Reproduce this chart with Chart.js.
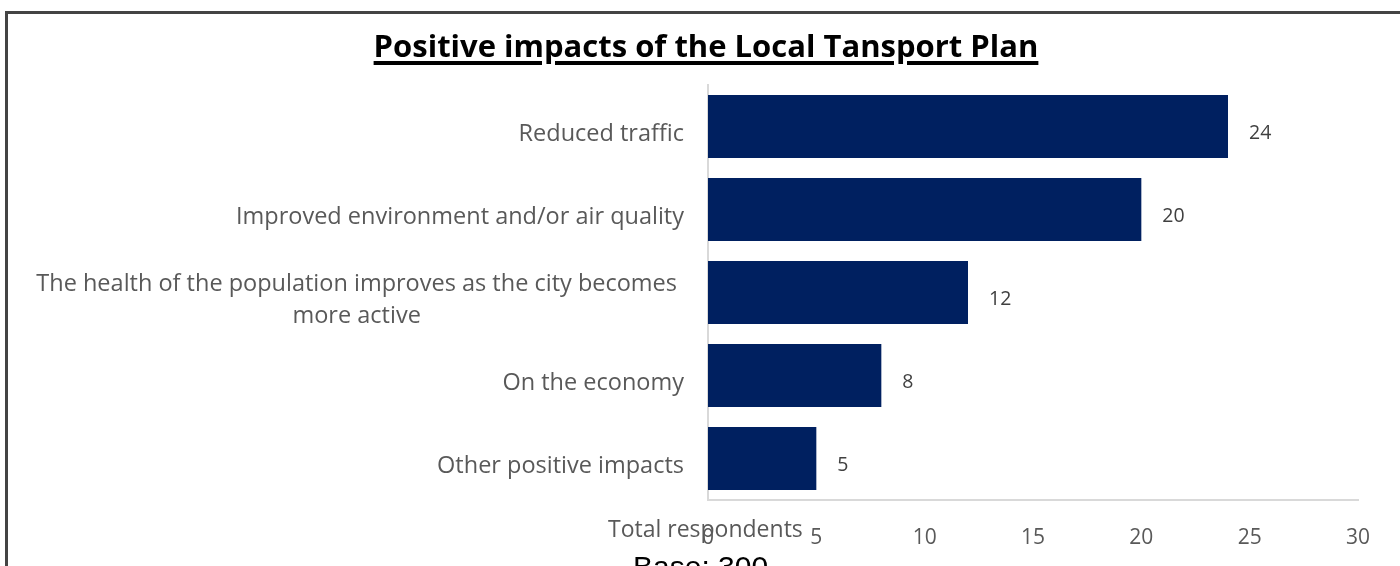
<!DOCTYPE html>
<html>
<head>
<meta charset="utf-8">
<script src="https://cdn.jsdelivr.net/npm/chart.js@4/dist/chart.umd.min.js"></script>
<style>
  html, body { margin: 0; padding: 0; background: #fff; overflow: hidden; }
  #wrap { position: relative; width: 1400px; height: 566px; }
  #frame {
    position: absolute; left: 5px; top: 11px; right: -10px; bottom: -10px;
    border-top: 3px solid #444; border-left: 3px solid #444;
  }
  #title {
    position: absolute; left: 0; width: 1412px; top: 30px; text-align: center;
    font: bold 31px "Open Sans", sans-serif; line-height: 1; color: #000;
    text-decoration: underline; text-decoration-thickness: 4px; text-underline-offset: 4px;
  }
  #base {
    position: absolute; left: 633px; top: 550px; line-height: 1;
    font: 30px "Liberation Sans", Arial, sans-serif; color: #000;
  }
  canvas { position: absolute; left: 0; top: 0; }
</style>
</head>
<body>
<div id="wrap">
  <div id="frame"></div>
  <canvas id="graph" width="1400" height="566"></canvas>
  <div id="title">Positive impacts of the Local Tansport Plan</div>
  <div id="base">Base: 300</div>
</div>
<script>
const categories = [
  ['Reduced traffic'],
  ['Improved environment and/or air quality'],
  ['The health of the population improves as the city becomes', 'more active'],
  ['On the economy'],
  ['Other positive impacts'],
];
const respondents = [24, 20, 12, 8, 5];
const xTicks = [0, 5, 10, 15, 20, 25, 30];
const axisTitle = 'Total respondents';

const graphRef = document.getElementById('graph');

// Category labels: each line centred in its block, block right edge near the axis
const categoryLabels = {
  id: 'categoryLabels',
  afterDraw(chart) {
    const { ctx, scales: { y } } = chart;
    ctx.save();
    ctx.font = '23.5px "Open Sans", sans-serif';
    ctx.fillStyle = '#595959';
    ctx.textBaseline = 'alphabetic';
    ctx.textAlign = 'center';
    const right = y.right - 24;
    const lh = 32;
    categories.forEach((lines, i) => {
      const cy = y.getPixelForValue(i);
      const w = Math.max(...lines.map((l) => ctx.measureText(l).width));
      const cx = right - w / 2 - (lines.length > 1 ? 7 : 0);
      lines.forEach((line, j) => {
        ctx.fillText(line, cx, cy + 14 + (j - (lines.length - 1) / 2) * lh);
      });
    });
    ctx.restore();
  },
};

// Value labels at the end of each bar, plus the axis title
const valueLabels = {
  id: 'valueLabels',
  afterDraw(chart) {
    const { ctx } = chart;
    const meta = chart.getDatasetMeta(0);
    ctx.save();
    ctx.font = '19.5px "Open Sans", sans-serif';
    ctx.fillStyle = '#404040';
    ctx.textBaseline = 'alphabetic';
    ctx.textAlign = 'left';
    meta.data.forEach((bar, i) => {
      ctx.fillText(String(respondents[i]), bar.x + 21, bar.y + 12);
    });
    ctx.font = '23px "Open Sans", sans-serif';
    ctx.fillStyle = '#595959';
    ctx.fillText(axisTitle, chart.chartArea.left - 100, chart.chartArea.bottom + 37);
    ctx.restore();
  },
};

new Chart(graphRef, {
  type: 'bar',
  data: {
    labels: categories,
    datasets: [
      {
        data: respondents,
        backgroundColor: '#002060',
        categoryPercentage: 1,
        barPercentage: 0.76,
      },
    ],
  },
  options: {
    indexAxis: 'y',
    responsive: false,
    animation: false,
    layout: { padding: { top: 85, right: 42, left: 0, bottom: 0 } },
    plugins: {
      legend: { display: false },
      tooltip: { enabled: false },
    },
    scales: {
      x: {
        min: 0,
        max: 30,
        afterBuildTicks: (scale) => {
          scale.ticks = xTicks.map((v) => ({ value: v }));
        },
        grid: { display: false, drawTicks: false },
        border: { color: '#d9d9d9', width: 2 },
        ticks: {
          color: '#595959',
          font: { family: 'Open Sans', size: 21 },
          padding: 25,
        },
        afterFit: (scale) => { scale.height = 66; },
      },
      y: {
        grid: { display: false, drawTicks: false },
        border: { color: '#d9d9d9', width: 2 },
        ticks: { display: false },
        afterFit: (scale) => { scale.width = 708; },
      },
    },
  },
  plugins: [categoryLabels, valueLabels],
});
</script>
</body>
</html>
